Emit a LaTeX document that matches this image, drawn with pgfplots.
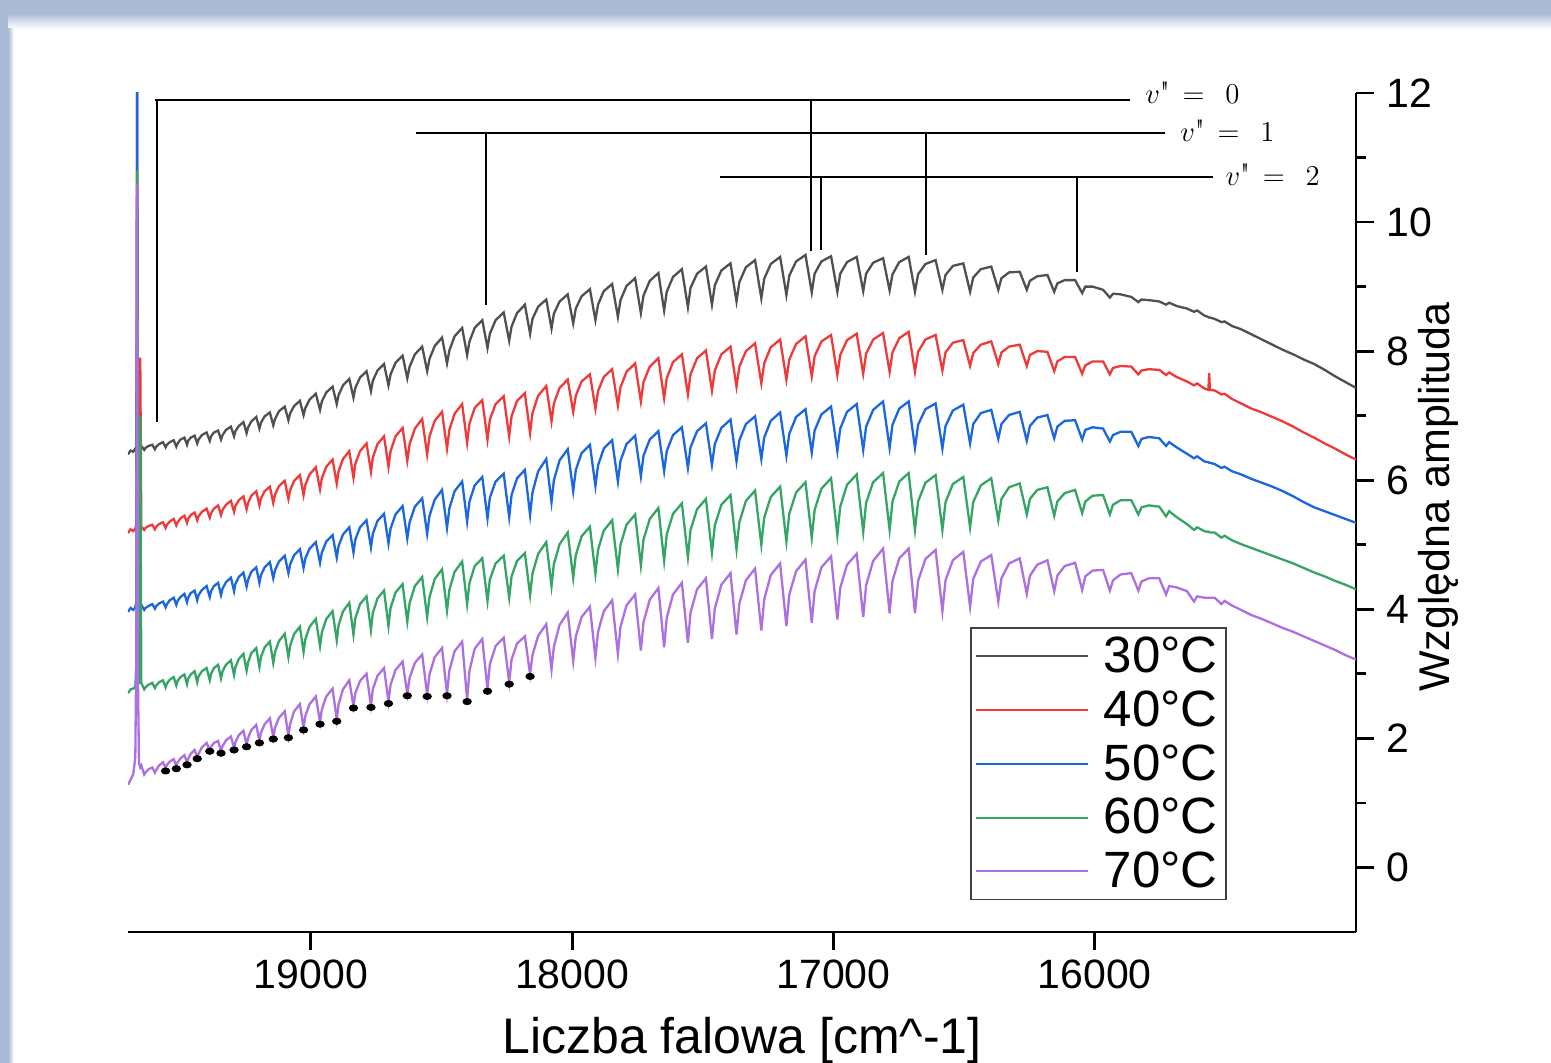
\documentclass[border=0pt]{standalone}
\usepackage{pgfplots}
\pgfplotsset{compat=1.18}
\usepackage{pgfplotstable}
\usepackage{fontspec}
\setsansfont{Liberation Sans}
\definecolor{c30}{RGB}{80,80,80}
\definecolor{c40}{RGB}{238,58,58}
\definecolor{c50}{RGB}{28,102,222}
\definecolor{c60}{RGB}{52,165,100}
\definecolor{c70}{RGB}{172,112,224}
\definecolor{band}{RGB}{170,187,215}
\pgfplotstableread{
x c30 c40 c50 c60 c70
19700 6.40 5.18 3.96 2.70 1.28
19690 6.46 5.24 4.02 2.76 1.36
19680 6.44 5.21 3.99 2.77 1.44
19672 6.49 5.25 4.03 2.80 1.70
19668 6.52 5.32 4.12 3.10 3.40
19665 7.05 12.50 12.50 10.80 10.60
19662 6.60 5.45 4.20 3.40 3.00
19658 6.52 5.30 4.06 2.84 1.62
19653 6.50 7.90 4.04 7.00 1.55
19649 6.53 5.28 4.07 2.86 1.58
19638 6.47 5.23 3.99 2.76 1.44
19633 6.50 5.26 4.02 2.79 1.47
19622 6.53 5.29 4.05 2.83 1.52
19607 6.55 5.31 4.08 2.86 1.55
19597 6.48 5.24 4.01 2.78 1.47
19592 6.52 5.28 4.05 2.82 1.51
19581 6.56 5.32 4.09 2.87 1.58
19566 6.59 5.35 4.12 2.90 1.63
19556 6.51 5.26 4.03 2.79 1.54
19551 6.55 5.31 4.08 2.85 1.59
19540 6.59 5.36 4.14 2.91 1.64
19525 6.62 5.40 4.18 2.95 1.68
19515 6.52 5.30 4.07 2.82 1.57
19510 6.57 5.35 4.13 2.89 1.63
19499 6.63 5.41 4.19 2.95 1.69
19484 6.66 5.45 4.24 2.99 1.74
19474 6.55 5.34 4.11 2.84 1.62
19470 6.61 5.40 4.18 2.92 1.68
19460 6.66 5.46 4.25 2.99 1.76
19445 6.69 5.50 4.29 3.04 1.82
19435 6.57 5.38 4.14 2.87 1.70
19430 6.63 5.44 4.22 2.96 1.76
19417 6.70 5.51 4.30 3.04 1.86
19399 6.74 5.56 4.36 3.09 1.93
19387 6.61 5.42 4.19 2.90 1.81
19382 6.68 5.49 4.28 3.00 1.87
19371 6.74 5.56 4.36 3.09 1.93
19355 6.77 5.61 4.41 3.14 1.96
19344 6.63 5.46 4.22 2.93 1.80
19338 6.70 5.54 4.32 3.04 1.88
19325 6.78 5.62 4.42 3.14 1.97
19306 6.83 5.68 4.49 3.21 2.03
19294 6.68 5.51 4.28 2.98 1.85
19289 6.76 5.60 4.39 3.10 1.94
19276 6.84 5.69 4.50 3.23 2.05
19258 6.90 5.75 4.57 3.31 2.12
19246 6.73 5.55 4.35 3.05 1.90
19240 6.82 5.65 4.46 3.18 2.01
19228 6.91 5.76 4.58 3.32 2.13
19209 6.98 5.83 4.65 3.40 2.21
19197 6.80 5.61 4.41 3.11 1.96
19191 6.89 5.72 4.53 3.26 2.09
19177 6.99 5.83 4.65 3.41 2.22
19157 7.05 5.90 4.73 3.50 2.31
19144 6.85 5.65 4.48 3.17 2.02
19137 6.95 5.78 4.61 3.34 2.17
19122 7.07 5.91 4.74 3.51 2.32
19100 7.14 5.99 4.83 3.62 2.42
19086 6.93 5.71 4.56 3.26 2.04
19079 7.04 5.85 4.70 3.44 2.23
19064 7.15 5.99 4.84 3.62 2.42
19042 7.23 6.08 4.93 3.73 2.53
19028 7.01 5.77 4.64 3.34 2.16
19021 7.12 5.93 4.79 3.54 2.35
19005 7.25 6.09 4.94 3.73 2.53
18981 7.34 6.20 5.04 3.85 2.65
18965 7.09 5.86 4.72 3.43 2.25
18958 7.22 6.03 4.88 3.64 2.45
18941 7.36 6.21 5.05 3.85 2.65
18917 7.45 6.32 5.15 3.97 2.77
18901 7.18 5.95 4.80 3.52 2.29
18894 7.32 6.14 4.98 3.75 2.53
18877 7.47 6.33 5.16 3.97 2.76
18853 7.57 6.45 5.27 4.10 2.90
18837 7.28 6.04 4.88 3.61 2.50
18830 7.43 6.25 5.08 3.86 2.70
18812 7.59 6.45 5.27 4.08 2.89
18787 7.69 6.57 5.38 4.20 3.00
18770 7.38 6.13 4.96 3.68 2.51
18763 7.54 6.35 5.17 3.94 2.76
18745 7.70 6.56 5.37 4.17 2.97
18720 7.80 6.68 5.48 4.29 3.09
18703 7.47 6.21 5.02 3.74 2.57
18695 7.64 6.45 5.25 4.02 2.83
18676 7.82 6.68 5.47 4.26 3.06
18649 7.93 6.81 5.60 4.39 3.19
18631 7.58 6.30 5.10 3.81 2.69
18622 7.76 6.56 5.35 4.10 2.94
18602 7.95 6.80 5.59 4.36 3.17
18574 8.07 6.95 5.72 4.50 3.30
18555 7.69 6.40 5.17 3.88 2.68
18546 7.88 6.68 5.45 4.19 2.99
18526 8.08 6.92 5.70 4.47 3.26
18498 8.21 7.06 5.85 4.62 3.40
18479 7.81 6.49 5.26 3.98 2.69
18470 8.01 6.78 5.56 4.30 3.05
18450 8.23 7.03 5.83 4.58 3.35
18421 8.36 7.18 5.98 4.74 3.50
18402 7.94 6.58 5.36 4.08 2.60
18393 8.15 6.88 5.67 4.41 3.05
18373 8.36 7.12 5.92 4.67 3.39
18344 8.48 7.24 6.05 4.79 3.54
18324 8.05 6.63 5.41 4.13 2.76
18315 8.27 6.94 5.73 4.46 3.15
18293 8.48 7.18 5.98 4.71 3.43
18262 8.60 7.30 6.10 4.83 3.56
18241 8.16 6.68 5.43 4.18 2.87
18232 8.38 6.99 5.77 4.51 3.22
18211 8.59 7.23 6.03 4.75 3.47
18181 8.72 7.35 6.16 4.87 3.58
18161 8.27 6.73 5.46 4.22 2.99
18152 8.50 7.04 5.81 4.55 3.29
18130 8.69 7.31 6.14 4.86 3.59
18099 8.80 7.46 6.33 5.04 3.77
18079 8.35 6.91 5.66 4.36 3.07
18070 8.58 7.19 6.00 4.70 3.42
18048 8.77 7.43 6.31 5.01 3.76
18017 8.88 7.56 6.48 5.19 3.95
17996 8.43 7.06 5.83 4.49 3.20
17986 8.66 7.31 6.16 4.84 3.58
17964 8.85 7.53 6.42 5.13 3.88
17932 8.96 7.64 6.55 5.28 4.04
17911 8.48 7.11 5.91 4.55 3.25
17901 8.72 7.38 6.23 4.92 3.65
17879 8.93 7.60 6.49 5.22 3.97
17847 9.04 7.72 6.62 5.38 4.14
17825 8.53 7.16 5.98 4.62 3.31
17815 8.79 7.44 6.30 5.00 3.73
17792 9.01 7.68 6.56 5.31 4.06
17759 9.13 7.81 6.69 5.47 4.23
17737 8.59 7.22 6.06 4.68 3.36
17727 8.86 7.52 6.38 5.08 3.80
17703 9.09 7.76 6.63 5.40 4.15
17670 9.21 7.89 6.76 5.57 4.33
17648 8.63 7.27 6.14 4.75 3.41
17638 8.92 7.58 6.45 5.16 3.87
17614 9.15 7.83 6.70 5.48 4.23
17580 9.27 7.95 6.82 5.64 4.41
17557 8.68 7.33 6.19 4.81 3.48
17547 8.98 7.64 6.51 5.23 3.95
17522 9.20 7.89 6.76 5.55 4.31
17488 9.31 8.01 6.88 5.71 4.48
17465 8.72 7.39 6.24 4.88 3.54
17454 9.02 7.70 6.56 5.30 4.01
17429 9.25 7.95 6.81 5.62 4.38
17394 9.36 8.07 6.94 5.77 4.56
17371 8.77 7.45 6.29 4.93 3.61
17360 9.07 7.76 6.62 5.35 4.09
17335 9.30 8.00 6.87 5.68 4.45
17300 9.41 8.12 6.99 5.84 4.63
17276 8.82 7.50 6.33 5.00 3.67
17265 9.12 7.81 6.66 5.42 4.15
17240 9.35 8.06 6.92 5.74 4.53
17204 9.46 8.18 7.05 5.90 4.71
17180 8.87 7.56 6.38 5.05 3.74
17169 9.17 7.87 6.72 5.48 4.23
17143 9.39 8.11 6.98 5.81 4.59
17107 9.49 8.23 7.10 5.97 4.77
17083 8.91 7.61 6.43 5.11 3.79
17072 9.20 7.92 6.77 5.54 4.28
17046 9.39 8.15 7.02 5.87 4.65
17009 9.47 8.25 7.14 6.03 4.82
16985 8.92 7.63 6.45 5.15 3.84
16974 9.20 7.94 6.80 5.59 4.33
16948 9.38 8.17 7.06 5.93 4.69
16911 9.46 8.27 7.18 6.09 4.86
16886 8.93 7.65 6.47 5.20 3.88
16875 9.20 7.96 6.83 5.65 4.37
16848 9.37 8.18 7.09 5.97 4.75
16810 9.44 8.28 7.22 6.11 4.94
16785 8.94 7.68 6.50 5.23 3.94
16774 9.19 7.98 6.86 5.67 4.44
16748 9.38 8.20 7.11 5.98 4.79
16712 9.46 8.30 7.22 6.11 4.94
16688 8.92 7.68 6.50 5.23 3.94
16676 9.19 7.99 6.86 5.67 4.44
16648 9.35 8.18 7.10 5.96 4.78
16609 9.41 8.25 7.19 6.08 4.92
16583 8.95 7.70 6.49 5.23 3.97
16571 9.18 7.98 6.84 5.66 4.45
16543 9.32 8.13 7.08 5.94 4.76
16503 9.36 8.17 7.17 6.05 4.89
16477 8.92 7.77 6.57 5.27 4.04
16465 9.14 7.97 6.87 5.66 4.47
16436 9.27 8.10 7.04 5.92 4.74
16396 9.31 8.15 7.09 6.03 4.84
16369 8.95 7.80 6.64 5.38 4.12
16357 9.13 7.98 6.87 5.71 4.48
16328 9.22 8.07 7.01 5.89 4.71
16287 9.23 8.10 7.06 5.95 4.79
16260 8.95 7.77 6.61 5.47 4.24
16248 9.09 7.94 6.84 5.71 4.52
16220 9.16 8.00 6.97 5.85 4.69
16181 9.18 7.99 7.01 5.89 4.76
16155 8.92 7.69 6.65 5.45 4.28
16143 9.05 7.84 6.83 5.67 4.52
16115 9.10 7.91 6.92 5.80 4.67
16075 9.10 7.91 6.93 5.85 4.72
16048 8.90 7.65 6.63 5.49 4.30
16036 9.00 7.78 6.78 5.67 4.51
16008 9.00 7.84 6.82 5.76 4.60
15968 8.95 7.84 6.80 5.77 4.61
15942 8.83 7.64 6.60 5.47 4.29
15930 8.89 7.74 6.70 5.62 4.45
15901 8.88 7.77 6.75 5.69 4.54
15860 8.84 7.76 6.75 5.69 4.56
15833 8.76 7.64 6.53 5.47 4.29
15821 8.80 7.70 6.64 5.58 4.43
15793 8.79 7.72 6.67 5.61 4.48
15753 8.77 7.71 6.65 5.59 4.48
15727 8.72 7.63 6.53 5.44 4.23
15715 8.75 7.67 6.59 5.52 4.36
15687 8.70 7.60 6.51 5.43 4.34
15647 8.66 7.53 6.41 5.32 4.28
15620 8.61 7.47 6.34 5.23 4.12
15608 8.63 7.50 6.37 5.27 4.20
15580 8.55 7.42 6.29 5.21 4.18
15565 8.53 7.40 6.28 5.20 4.18
15562 8.52 7.66 6.27 5.20 4.18
15559 8.52 7.40 6.27 5.19 4.18
15541 8.50 7.39 6.25 5.19 4.18
15515 8.45 7.33 6.19 5.11 4.08
15503 8.46 7.34 6.21 5.14 4.13
15475 8.39 7.26 6.14 5.07 4.06
15440 8.34 7.19 6.09 5.01 3.99
15400 8.26 7.11 6.02 4.95 3.91
15360 8.18 7.05 5.96 4.89 3.85
15320 8.10 6.98 5.90 4.83 3.78
15280 8.02 6.91 5.83 4.77 3.71
15240 7.95 6.83 5.75 4.71 3.65
15200 7.87 6.74 5.66 4.64 3.58
15160 7.80 6.66 5.58 4.57 3.51
15120 7.71 6.57 5.52 4.51 3.44
15080 7.61 6.49 5.46 4.44 3.37
15040 7.52 6.40 5.40 4.38 3.29
15000 7.43 6.32 5.34 4.31 3.22
}\spectra
\begin{document}
\begin{tikzpicture}
\useasboundingbox (0,0) rectangle (775.5pt,531.5pt);
\fill[white] (0,0) rectangle (775.5pt,531.5pt);
\fill[band] (0,525pt) rectangle (775.5pt,531.5pt);
\shade[top color=band, bottom color=white] (0,517pt) rectangle (775.5pt,525pt);
\fill[band] (0,0) rectangle (4pt,525pt);
\shade[left color=band, right color=white] (4pt,0) rectangle (7pt,517pt);
\begin{axis}[
  at={(64pt,65.5pt)}, anchor=south west,
  scale only axis, width=614pt, height=419.5pt,
  xmin=15000, xmax=19700, ymin=-1, ymax=12,
  x dir=reverse,
  clip mode=individual,
  scaled x ticks=false, scaled y ticks=false,
  axis x line*=bottom, axis y line*=right,
  axis line style={line width=1.4pt, black},
  xtick={16000,17000,18000,19000},
  xticklabels={16000,17000,18000,19000},
  ytick={0,2,4,6,8,10,12},
  yticklabels={0,2,4,6,8,10,12},
  minor ytick={1,3,5,7,9,11},
  tick align=outside,
  major tick length=9pt, minor tick length=5pt,
  every tick/.append style={line width=1.4pt, black},
  xticklabel style={font=\fontsize{20.5}{24}\selectfont\sffamily, anchor=north, inner sep=0pt, yshift=-4.5pt},
  yticklabel style={font=\fontsize{20.5}{24}\selectfont\sffamily, anchor=west, inner sep=0pt, xshift=6pt},
  xlabel={Liczba falowa [cm\textasciicircum-1]},
  ylabel={Względna amplituda},
  x label style={font=\fontsize{25}{30}\selectfont\sffamily, at={(axis description cs:0.5,-0.145)}, anchor=base},
  y label style={font=\fontsize{21.5}{26}\selectfont\sffamily, at={(axis description cs:1.0765,0.5185)}, anchor=base},
  legend style={at={(0.6857,0.3635)}, anchor=north west, draw=black!75, line width=0.8pt, fill=white,
    font=\fontsize{25.5}{30}\selectfont\sffamily, inner xsep=2pt, inner ysep=2.5pt,
    row sep=3.6pt, column sep=5.5pt, nodes={inner sep=2pt}},
  legend cell align=left,
  legend image code/.code={\draw[#1, line width=1pt] (0pt,0pt) -- (56pt,0pt);},
]
\addplot[c30, line width=1.15pt] table[x=x, y=c30] {\spectra};
\addplot[c40, line width=1.15pt] table[x=x, y=c40] {\spectra};
\addplot[c50, line width=1.15pt] table[x=x, y=c50] {\spectra};
\addplot[c60, line width=1.15pt] table[x=x, y=c60] {\spectra};
\addplot[c70, line width=1.15pt] table[x=x, y=c70] {\spectra};
\legend{30°C,40°C,50°C,60°C,70°C}
\addplot[only marks, mark=*, mark size=1.85pt, black, mark options={xscale=1.15, yscale=0.85}, forget plot] coordinates {
(19556,1.495) (19515,1.53) (19474,1.59) (19435,1.685) (19387,1.80) (19344,1.77)
(19294,1.82) (19246,1.87) (19197,1.93) (19144,1.99) (19086,2.01) (19028,2.13)
(18965,2.22) (18901,2.265) (18837,2.47) (18770,2.48) (18703,2.54) (18631,2.66)
(18555,2.65) (18479,2.66) (18402,2.57) (18324,2.73) (18241,2.84) (18161,2.96)
};
\draw[line width=1.2pt] (axis cs:19597,11.89) -- (axis cs:15865,11.89);
\draw[line width=1.2pt] (axis cs:19589,11.89) -- (axis cs:19589,6.90);
\draw[line width=1.2pt] (axis cs:17086,11.89) -- (axis cs:17086,9.55);
\draw[line width=1.2pt] (axis cs:18598,11.38) -- (axis cs:15731,11.38);
\draw[line width=1.2pt] (axis cs:18330,11.38) -- (axis cs:18330,8.72);
\draw[line width=1.2pt] (axis cs:16646,11.38) -- (axis cs:16646,9.49);
\draw[line width=1.2pt] (axis cs:17434,10.70) -- (axis cs:15547,10.70);
\draw[line width=1.2pt] (axis cs:17048,10.70) -- (axis cs:17048,9.57);
\draw[line width=1.2pt] (axis cs:16068,10.70) -- (axis cs:16068,9.23);
\node[anchor=base west, font=\fontsize{15.5}{18}\selectfont, inner sep=0pt] at (axis cs:15808,11.84) {$v$\textquotedbl$\;\,=\;\,0$};
\node[anchor=base west, font=\fontsize{15.5}{18}\selectfont, inner sep=0pt] at (axis cs:15674,11.25) {$v$\textquotedbl$\;\,=\;\,1$};
\node[anchor=base west, font=\fontsize{15.5}{18}\selectfont, inner sep=0pt] at (axis cs:15501,10.57) {$v$\textquotedbl$\;\,=\;\,2$};
\end{axis}
\end{tikzpicture}
\end{document}
